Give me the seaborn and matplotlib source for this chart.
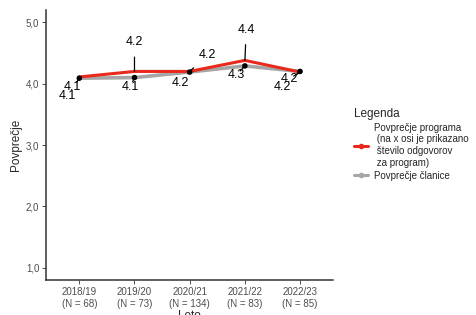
import pandas as pd
import matplotlib.pyplot as plt
import seaborn as sns
from matplotlib.lines import Line2D

# data
leta = ["2018/19\n(N = 68)", "2019/20\n(N = 73)", "2020/21\n(N = 134)",
        "2021/22\n(N = 83)", "2022/23\n(N = 85)"]
program = [4.11, 4.20, 4.20, 4.38, 4.19]
clanica = [4.09, 4.10, 4.19, 4.29, 4.20]
program_label = "Povprečje programa\n (na x osi je prikazano\n število odgovorov\n za program)"
clanica_label = "Povprečje članice"

sns.set_theme(style="white")
plt.rcParams['font.family'] = ['Liberation Sans', 'DejaVu Sans']

df = pd.DataFrame({
    "Leto": leta * 2,
    "Povprecje": program + clanica,
    "Serija": [program_label] * len(leta) + [clanica_label] * len(leta),
})
df["x"] = list(range(len(leta))) * 2

fig = plt.figure(figsize=(4.76, 3.15), dpi=100)
ax = fig.add_axes([0.097, 0.111, 0.603, 0.857])

sns.lineplot(data=df[df.Serija == clanica_label], x="x", y="Povprecje",
             color="#a6a6a6", linewidth=2.6, ax=ax, zorder=2, legend=False)
sns.lineplot(data=df[df.Serija == program_label], x="x", y="Povprecje",
             color="#e8291c", linewidth=2.2, ax=ax, zorder=3, legend=False)
sns.scatterplot(data=df[df.Serija == clanica_label], x="x", y="Povprecje",
                color="black", s=16, ax=ax, zorder=4, legend=False, edgecolor="none")

# repel-style labels (offsets in points)
prog_off = [(-5, -7), (0, 21), (13, 12), (1, 22), (-8, -5)]
clan_off = [(-8.5, -13), (-3, -6.5), (-6.5, -8), (-6, -6.5), (-13, -11.5)]
for i in range(len(leta)):
    for vals, offs in ((program, prog_off), (clanica, clan_off)):
        dx, dy = offs[i]
        ax.annotate(f"{vals[i]:.1f}", xy=(i, vals[i]), xytext=(dx, dy),
                    textcoords="offset points", ha="center", va="center",
                    fontsize=9, color="black", zorder=5,
                    arrowprops=dict(arrowstyle="-", color="black", lw=0.9,
                                    shrinkA=4, shrinkB=0))

ax.set_xlim(-0.6, len(leta) - 0.4)
ax.set_ylim(0.8, 5.2)
ax.set_xticks(range(len(leta)))
ax.set_xticklabels(leta)
ax.set_yticks([1, 2, 3, 4, 5])
ax.set_yticklabels(["1,0", "2,0", "3,0", "4,0", "5,0"])
ax.tick_params(axis="both", labelsize=7, colors="#4d4d4d", length=3, width=0.6,
               pad=2, bottom=True, left=True)
ax.tick_params(axis="both", color="#333333")
for s in ["top", "right"]:
    ax.spines[s].set_visible(False)
for s in ["left", "bottom"]:
    ax.spines[s].set_color("#333333")
    ax.spines[s].set_linewidth(1.1)
ax.set_xlabel("Leto", fontsize=8.5, labelpad=1)
ax.set_ylabel("Povprečje", fontsize=8.5, labelpad=3)

handles = [
    Line2D([0], [0], color="#e8291c", lw=2.2, marker="o", markersize=3),
    Line2D([0], [0], color="#a6a6a6", lw=2.2, marker="o", markersize=3),
]
leg = fig.legend(handles, [program_label, clanica_label], title="Legenda",
                 loc="upper left", bbox_to_anchor=(0.725, 0.685), frameon=False,
                 fontsize=7, title_fontsize=8.5, handlelength=1.5,
                 handletextpad=0.6, labelspacing=0.3, alignment="left")

fig.savefig("out.png", dpi=100)
